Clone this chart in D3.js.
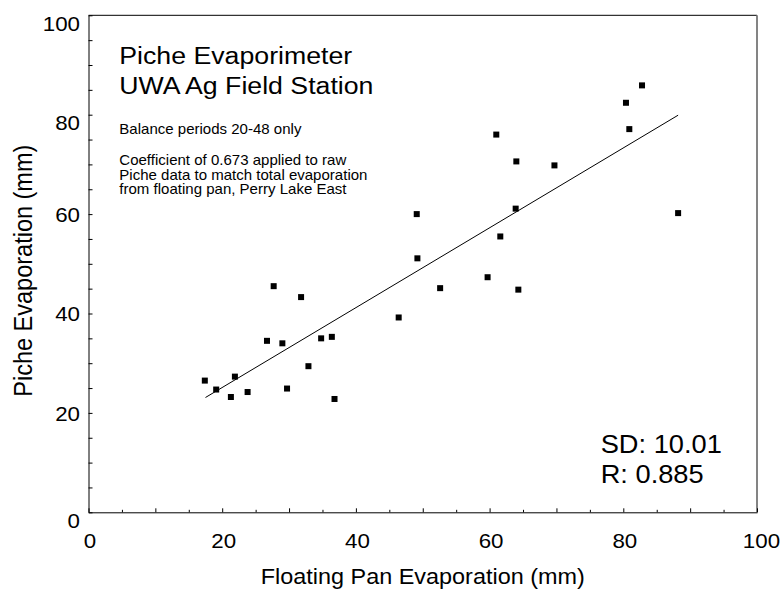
<!DOCTYPE html>
<html>
<head>
<meta charset="utf-8">
<script src="https://cdn.jsdelivr.net/npm/d3@7"></script>
<style>
    body { margin: 0; background: #fff; }
    text { font-family: "Liberation Sans", Arial, Helvetica, sans-serif; fill: #000; }
</style>
</head>
<body>
<div class="chart-container"></div>
<script>
var width = 782, height = 590,
    margin = {top: 15.3, bottom: 77.7, left: 88.5, right: 25};

// the picture is stretched a little sideways, text too
var stretch = 1.09;

// floating pan (x) vs piche (y), balance periods 20-48
var panEvap   = [17.4, 19.1, 21.3, 21.9, 23.8, 26.7, 27.7, 29.0, 29.7, 31.8,
                 32.9, 34.8, 36.4, 36.8, 46.4, 49.1, 49.2, 52.6, 59.7, 61.0,
                 61.6, 63.9, 64.0, 64.3, 69.7, 80.4, 80.9, 82.8, 88.2];
var picheEvap = [26.5, 24.7, 23.2, 27.3, 24.2, 34.5, 45.5, 34.0, 24.9, 43.3,
                 29.4, 35.0, 35.3, 22.8, 39.2, 60.0, 51.1, 45.1, 47.3, 76.0,
                 55.5, 61.1, 70.6, 44.8, 69.8, 82.4, 77.1, 85.9, 60.2];

// regression line end points
var fitX = [17.5, 88.2];
var fitY = [23.1, 79.9];

var xTicks = [0, 20, 40, 60, 80, 100];
var yTicks = [0, 20, 40, 60, 80, 100];

var titleLines = ["Piche Evaporimeter", "UWA Ag Field Station"];
var noteLines = ["Balance periods 20-48 only"];
var coefLines = ["Coefficient of 0.673 applied to raw",
                 "Piche data to match total evaporation",
                 "from floating pan, Perry Lake East"];
var statLines = ["SD: 10.01", "R: 0.885"];

var axesWidth = width - margin.left - margin.right,
    axesHeight = height - margin.top - margin.bottom;

var svg = d3.select('.chart-container')
    .append('svg')
    .attr('width', width)
    .attr('height', height)
    .append('g')
    .attr('transform', `translate(${margin.left},${margin.top})`);

var x = d3.scaleLinear().domain([0, 100]).range([0, axesWidth]);
var y = d3.scaleLinear().domain([0, 100]).range([axesHeight, 0]);

// frame: top black, right gray
svg.append('line')
    .attr('x1', 0).attr('x2', axesWidth).attr('y1', 0).attr('y2', 0)
    .attr('stroke', '#000').attr('stroke-width', 1);
svg.append('line')
    .attr('x1', axesWidth).attr('x2', axesWidth).attr('y1', 0).attr('y2', axesHeight)
    .attr('stroke', '#777').attr('stroke-width', 1.8);

function stepsOf(step, skip) {
    var out = [];
    for (var v = 0; v <= 100; v += step) {
        if (skip && v % skip === 0) continue;
        out.push(v);
    }
    return out;
}

// X axis, ticks point inward
var xg = svg.append('g')
    .attr('transform', `translate(0, ${axesHeight})`)
    .call(d3.axisBottom(x).tickValues(stepsOf(10)).tickSize(-4).tickSizeOuter(0)
        .tickFormat(d => xTicks.includes(d) ? d : ''));
xg.append('g')
    .call(d3.axisBottom(x).tickValues(stepsOf(5, 10)).tickSize(-2.5).tickFormat(''))
    .select('.domain').remove();
xg.selectAll('.tick text')
    .style('font-size', '20.5px')
    .attr('y', 0).attr('dy', 0)
    .attr('transform', d => `translate(${d === 100 ? 4 : 1}, 36) scale(${stretch},1)`);

// Y axis
var yg = svg.append('g')
    .call(d3.axisLeft(y).tickValues(stepsOf(10)).tickSize(-4).tickSizeOuter(0)
        .tickFormat(d => yTicks.includes(d) ? d : ''));
yg.append('g')
    .call(d3.axisLeft(y).tickValues(stepsOf(5, 10)).tickSize(-4).tickFormat(''))
    .select('.domain').remove();
yg.selectAll('.tick text')
    .style('font-size', '20.5px')
    .attr('x', 0).attr('dy', '0.35em')
    .attr('transform', d => `translate(-8.5, ${[0, 80, 100].includes(d) ? 8 : 0}) scale(${stretch},1)`);

svg.selectAll('.domain').attr('stroke', '#000');
svg.selectAll('.tick line').attr('stroke', '#000');

// fit line
svg.append('line')
    .attr('x1', x(fitX[0])).attr('y1', y(fitY[0]))
    .attr('x2', x(fitX[1])).attr('y2', y(fitY[1]))
    .attr('stroke', '#000').attr('stroke-width', 1);

// points
var pts = panEvap.map((v, i) => ({pan: v, piche: picheEvap[i]}));
svg.selectAll('.pt')
    .data(pts)
    .join('rect')
    .attr('class', 'pt')
    .attr('x', d => x(d.pan) - 3)
    .attr('y', d => y(d.piche) - 3)
    .attr('width', 6)
    .attr('height', 6)
    .attr('fill', '#000');

// text helper, absolute page coords
var root = d3.select('svg');
function addText(str, px, py, size, anchor) {
    return root.append('text')
        .attr('transform', `translate(${px},${py}) scale(${stretch},1)`)
        .attr('text-anchor', anchor || 'start')
        .style('font-size', size + 'px')
        .text(str);
}

titleLines.forEach((t, i) => addText(t, 119.3, 64.3 + i * 30, 24.5));
noteLines.forEach((t, i) => addText(t, 119.3, 134, 13.8));
coefLines.forEach((t, i) => addText(t, 119.3, 165 + i * 14.5, 13.8));
statLines.forEach((t, i) => addText(t, 600.7, 452.7 + i * 30.6, 25));

// axis titles
addText("Floating Pan Evaporation (mm)", margin.left + axesWidth / 2, 584, 21.5, 'middle');
root.append('text')
    .attr('transform', `translate(31.7, 396.7) scale(${stretch},1) rotate(-90)`)
    .style('font-size', '23.5px')
    .text("Piche Evaporation (mm)");
</script>
</body>
</html>
